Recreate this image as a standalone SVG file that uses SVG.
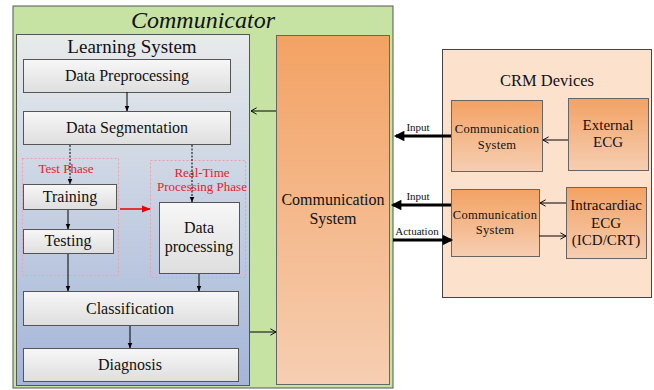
<svg xmlns="http://www.w3.org/2000/svg" width="654" height="390" viewBox="0 0 654 390" font-family="'Liberation Serif', 'DejaVu Serif', serif">
<defs>
<linearGradient id="gLS" x1="0" y1="0" x2="0" y2="1"><stop offset="0" stop-color="#e8ebeb"/><stop offset="1" stop-color="#a4b5d9"/></linearGradient>
<linearGradient id="gBox" x1="0" y1="0" x2="0" y2="1"><stop offset="0" stop-color="#f7f7f7"/><stop offset="1" stop-color="#dedede"/></linearGradient>
<linearGradient id="gOr" x1="0" y1="0" x2="0" y2="1"><stop offset="0" stop-color="#f3a263"/><stop offset="1" stop-color="#f6ceb2"/></linearGradient>
<marker id="aS" viewBox="0 0 10 10" refX="9" refY="5" markerWidth="6" markerHeight="6" orient="auto"><path d="M0,1 L10,5 L0,9 z" fill="#000"/></marker>
<marker id="aR" viewBox="0 0 10 10" refX="9" refY="5" markerWidth="6" markerHeight="6" orient="auto"><path d="M0,1 L10,5 L0,9 z" fill="#e00"/></marker>
<marker id="aO" viewBox="0 0 10 10" refX="9" refY="5" markerWidth="8" markerHeight="8" orient="auto" markerUnits="userSpaceOnUse"><path d="M2,1 L9,5 L2,9" fill="none" stroke="#000" stroke-width="1.2"/></marker>
<marker id="aT" viewBox="0 0 10 10" refX="8" refY="5" markerWidth="4" markerHeight="3.5" orient="auto"><path d="M0,0 L10,5 L0,10 z" fill="#000"/></marker>
</defs>
<style>
text{font-family:'Liberation Serif','DejaVu Serif',serif;fill:#111;text-anchor:middle}
.box{fill:url(#gBox);stroke:#555;stroke-width:1}
.or{fill:url(#gOr);stroke:#666;stroke-width:1}
.ph{fill:none;stroke:#e8a0b0;stroke-width:1;stroke-dasharray:2,2}
.red{fill:#e8202a}
.ln{stroke:#000;stroke-width:1;fill:none}
.thick{stroke:#000;stroke-width:3;fill:none}
</style>
<g id="communicator">
<rect x="13" y="6" width="380" height="382" fill="#c6e3a4" stroke="#555" stroke-width="1"/>
<text x="203" y="28" font-size="24" font-style="italic">Communicator</text>
</g>
<g id="learning-system">
<rect x="16.5" y="34.5" width="233" height="351" fill="url(#gLS)" stroke="#555"/>
<text x="132" y="53" font-size="19">Learning System</text>
</g>
<g id="data-preprocessing"><rect class="box" x="23.5" y="59.5" width="207" height="33"/><text x="127" y="81" font-size="16">Data Preprocessing</text></g>
<g id="data-segmentation"><rect class="box" x="23.5" y="111.5" width="207" height="33"/><text x="127" y="133" font-size="16">Data Segmentation</text></g>
<g id="test-phase"><rect class="ph" x="22.5" y="158.5" width="96" height="117"/><text class="red" x="66" y="173" font-size="13">Test Phase</text></g>
<g id="realtime-phase"><rect class="ph" x="150.5" y="160.5" width="95" height="117"/><text class="red" x="202" y="177" font-size="13">Real-Time</text><text class="red" x="202" y="191" font-size="13">Processing Phase</text></g>
<g id="training"><rect class="box" x="23.5" y="184.5" width="93" height="25"/><text x="70" y="202" font-size="16">Training</text></g>
<g id="testing"><rect class="box" x="23.5" y="229.5" width="90" height="24"/><text x="68" y="246" font-size="16">Testing</text></g>
<g id="data-processing"><rect class="box" x="159.5" y="202.5" width="80" height="71"/><text x="199" y="233" font-size="16">Data</text><text x="199" y="252" font-size="16">processing</text></g>
<g id="classification"><rect class="box" x="23.5" y="291.5" width="215" height="34"/><text x="130" y="314" font-size="16">Classification</text></g>
<g id="diagnosis"><rect class="box" x="23.5" y="348.5" width="215" height="33"/><text x="130" y="370" font-size="16">Diagnosis</text></g>
<g id="comm-system-main"><rect class="or" x="276.5" y="35.5" width="113" height="349"/><text x="333" y="205" font-size="16">Communication</text><text x="333" y="224" font-size="16">System</text></g>
<g id="crm-devices"><rect x="442.5" y="49.5" width="209" height="248" fill="#fce1cd" stroke="#444"/><text x="547" y="86" font-size="16.5">CRM Devices</text></g>
<g id="comm-system-1"><rect class="or" x="451.5" y="100.5" width="91" height="71"/><text x="497" y="133" font-size="12.5" letter-spacing="0.3">Communication</text><text x="497" y="149" font-size="12.5" letter-spacing="0.3">System</text></g>
<g id="external-ecg"><rect class="or" x="568.5" y="98.5" width="80" height="72"/><text x="608" y="130" font-size="15">External</text><text x="608" y="147" font-size="15">ECG</text></g>
<g id="comm-system-2"><rect class="or" x="451.5" y="189.5" width="88" height="67"/><text x="495" y="219" font-size="12.5" letter-spacing="0.3">Communication</text><text x="495" y="234" font-size="12.5" letter-spacing="0.3">System</text></g>
<g id="intracardiac-ecg"><rect class="or" x="566.5" y="187.5" width="80" height="71"/><text x="606" y="210" font-size="15">Intracardiac</text><text x="606" y="228" font-size="15">ECG</text><text x="606" y="245" font-size="15">(ICD/CRT)</text></g>
<g id="connectors">
<line class="ln" x1="127" y1="92" x2="127" y2="111" marker-end="url(#aS)"/>
<line class="ln" x1="70" y1="145" x2="70" y2="184" stroke-dasharray="2,1.5" marker-end="url(#aS)"/>
<line class="ln" x1="192" y1="145" x2="192" y2="202" stroke-dasharray="2,1.5" marker-end="url(#aS)"/>
<line class="ln" x1="68" y1="210" x2="68" y2="229" marker-end="url(#aS)"/>
<line x1="120" y1="209" x2="150" y2="209" stroke="#e00" stroke-width="1.5" marker-end="url(#aR)"/>
<line class="ln" x1="68" y1="254" x2="68" y2="291" marker-end="url(#aS)"/>
<line class="ln" x1="199" y1="274" x2="199" y2="291" marker-end="url(#aS)"/>
<line class="ln" x1="130" y1="326" x2="130" y2="348" marker-end="url(#aS)"/>
<line class="ln" x1="276" y1="111" x2="251" y2="111" stroke-width="1.5" marker-end="url(#aO)"/>
<line class="ln" x1="250" y1="332" x2="276" y2="332" stroke-width="1.5" marker-end="url(#aO)"/>
<line class="ln" x1="568" y1="140" x2="543" y2="140" marker-end="url(#aO)"/>
<line class="ln" x1="566" y1="203" x2="540" y2="203" marker-end="url(#aO)"/>
<line class="ln" x1="539" y1="236" x2="566" y2="236" marker-end="url(#aO)"/>
<line class="thick" x1="451" y1="136" x2="396" y2="136" marker-end="url(#aT)"/>
<line class="thick" x1="451" y1="205" x2="393" y2="205" marker-end="url(#aT)"/>
<line class="thick" x1="393" y1="240" x2="451" y2="240" marker-end="url(#aT)"/>
<text x="418" y="131" font-size="11">Input</text>
<text x="418" y="200" font-size="11">Input</text>
<text x="417" y="235" font-size="11">Actuation</text>
</g>
</svg>
